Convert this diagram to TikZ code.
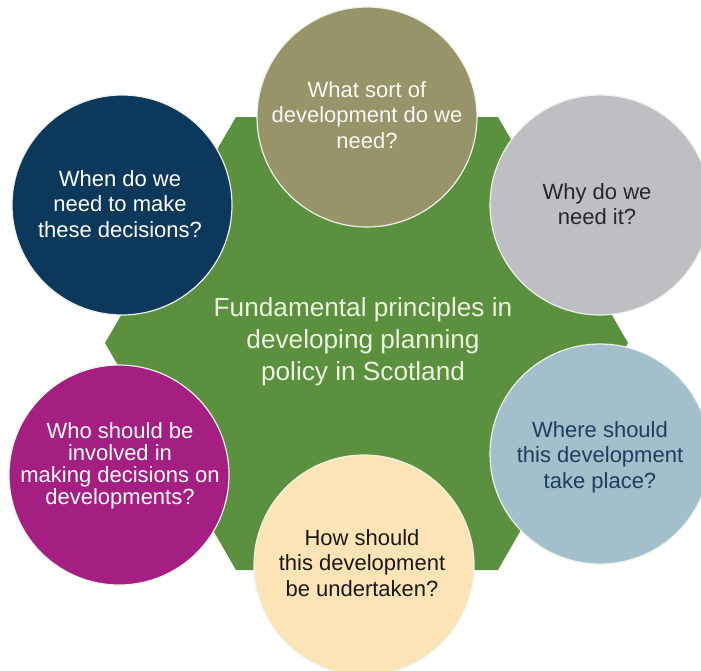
\documentclass[tikz,border=0pt]{standalone}
\usepackage{fontspec}
\setmainfont{Liberation Sans}

\definecolor{hexgreen}{RGB}{91,144,62}
\definecolor{olive}{RGB}{152,148,106}
\definecolor{silver}{RGB}{190,191,195}
\definecolor{paleblue}{RGB}{163,191,204}
\definecolor{cream}{RGB}{252,228,182}
\definecolor{plum}{RGB}{165,30,130}
\definecolor{navy}{RGB}{12,56,92}
\definecolor{inknavy}{RGB}{28,62,96}
\definecolor{palegreen}{RGB}{236,243,226}

\tikzset{
    bubble/.style={circle, draw=white!88!hexgreen, line width=1.2pt, inner sep=0pt, minimum size=220pt},
    bubbletext/.style={align=center, font=\fontsize{22}{25.5}\selectfont},
}

\begin{document}
\begin{tikzpicture}[x=1pt, y=-1pt]
                \useasboundingbox (0, 0) rectangle (701, 670);

                % hexagon behind the questions
                \fill [hexgreen] (236, 117) -- (498, 117) -- (628, 343) -- (498, 570) -- (236, 570) -- (105, 343) -- cycle;
                \node [align=center, text=palegreen, font=\fontsize{26.2}{32}\selectfont] (core) at (363, 342) {Fundamental principles in\\developing planning\\policy in Scotland};

                \node [bubble, fill=olive] (what) at (367, 117) {};
                \node [bubble, fill=silver] (why) at (600, 205) {};
                \node [bubble, fill=paleblue] (where) at (600, 454) {};
                \node [bubble, fill=cream] (how) at (364, 565) {};
                \node [bubble, fill=plum] (who) at (119, 475) {};
                \node [bubble, fill=navy] (when) at (122, 205) {};

                \node [bubbletext, text=white!94!olive] (whattext) at (367, 115) {What sort of\\development do we\\need?};
                \node [bubbletext, text=black!85] (whytext) at (597, 204) {Why do we\\need it?};
                \node [bubbletext, text=inknavy] (wheretext) at (600, 457) {Where should\\this development\\take place?};
                \node [bubbletext, text=black!90] (howtext) at (362, 563) {How should\\this development\\be undertaken?};
                \node [bubbletext, text=white, font=\fontsize{22}{22}\selectfont] (whotext) at (120, 466) {Who should be\\involved in\\making decisions on\\developments?};
                \node [bubbletext, text=white] (whentext) at (120, 204) {When do we\\need to make\\these decisions?};
            \end{tikzpicture}
\end{document}
